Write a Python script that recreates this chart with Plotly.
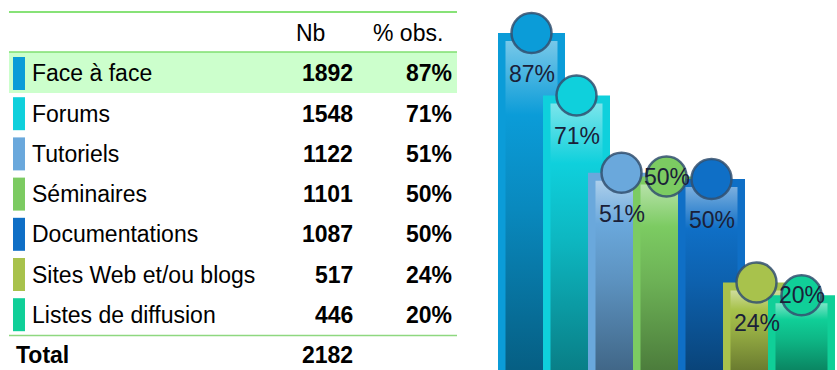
import plotly.graph_objects as go

# ---- data ---------------------------------------------------------------
categories = ["Face à face", "Forums", "Tutoriels", "Séminaires",
              "Documentations", "Sites Web et/ou blogs", "Listes de diffusion"]
counts = [1892, 1548, 1122, 1101, 1087, 517, 446]
total = 2182
colors = ["#0b9cd8", "#0fd0dc", "#6aa8dc", "#7ccb62",
          "#0f6fc6", "#a8c24c", "#10cf98"]
header_labels = ["Nb", "% obs."]
total_label = "Total"

pct = [c / total * 100 for c in counts]

# labels that sit on the marker instead of under it
labels_on_marker = {"Séminaires", "Listes de diffusion"}

# ---- helpers ------------------------------------------------------------
W, H = 837, 370
FONT = "Liberation Sans, Arial, sans-serif"
FS = 23


def _rgb(h):
    h = h.lstrip("#")
    return [int(h[i:i + 2], 16) for i in (0, 2, 4)]


def shade(h, f):
    r, g, b = _rgb(h)
    return "rgb(%d,%d,%d)" % (r * f, g * f, b * f)


def tint(h, f):
    r, g, b = _rgb(h)
    return "rgb(%d,%d,%d)" % (r + (255 - r) * f, g + (255 - g) * f, b + (255 - b) * f)


def px(x):
    return x / W


def py(y):
    return 1 - y / H


# ---- chart geometry -----------------------------------------------------
x_domain = [px(498), px(835)]
half = 0.7444            # half bar width in category units (bars overlap)
inset = 7.5 / 45         # inner panel inset, category units
y_range = [1.57, 95.05]
y_per_px = (y_range[1] - y_range[0]) / H
top_gap = 8 * y_per_px   # inner panel starts a little below the bar top

fig = go.Figure()

for i, (name, p, col) in enumerate(zip(categories, pct, colors)):
    # outer bar body
    fig.add_trace(go.Scatter(
        x=[i - half, i + half, i + half, i - half, i - half],
        y=[0, 0, p, p, 0],
        mode="lines", fill="toself", fillcolor=col,
        line=dict(width=0, color=col), hoverinfo="skip", showlegend=False))
    # inner glossy panel
    fig.add_trace(go.Scatter(
        x=[i - half + inset, i + half - inset, i + half - inset,
           i - half + inset, i - half + inset],
        y=[0, 0, p - top_gap, p - top_gap, 0],
        mode="lines", fill="toself",
        fillgradient=dict(type="vertical", colorscale=[
            [0.0, shade(col, 0.6)],
            [0.5, shade(col, 0.88)],
            [0.78, col],
            [1.0, tint(col, 0.45)]]),
        line=dict(width=0, color=col), hoverinfo="skip", showlegend=False))

# markers on top of each bar
fig.add_trace(go.Scatter(
    x=list(range(len(categories))), y=pct, mode="markers",
    marker=dict(size=40, color=colors,
                line=dict(width=2.5, color="rgba(50,80,112,0.85)")),
    hoverinfo="skip", showlegend=False, cliponaxis=False))

annotations = []
for i, (name, p) in enumerate(zip(categories, pct)):
    annotations.append(dict(
        x=i, y=p, xref="x", yref="y", text=f"{p:.0f}%", showarrow=False,
        yshift=0 if name in labels_on_marker else -41,
        font=dict(family=FONT, size=FS, color="#1a2038")))

# ---- table --------------------------------------------------------------
shapes = []
left, right = px(9), px(457)
row0, step = 73.5, 40.2

# highlighted first row
shapes.append(dict(type="rect", xref="paper", yref="paper",
                   x0=left, x1=right, y0=py(93), y1=py(52),
                   fillcolor="#ccffcc", line=dict(width=0), layer="below"))
# rules
shapes.append(dict(type="line", xref="paper", yref="paper", x0=left, x1=right,
                   y0=py(12), y1=py(12), line=dict(color="#5fd84a", width=1.3)))
shapes.append(dict(type="line", xref="paper", yref="paper", x0=left, x1=right,
                   y0=py(52), y1=py(52), line=dict(color="#7fdf70", width=1.5)))
shapes.append(dict(type="line", xref="paper", yref="paper", x0=left, x1=right,
                   y0=py(335.5), y1=py(335.5), line=dict(color="#8ed880", width=1.5)))


def text_at(x, y, s, anchor, bold=False):
    annotations.append(dict(x=px(x), y=py(y), xref="paper", yref="paper",
                            xanchor=anchor, yanchor="middle", showarrow=False,
                            text=f"<b>{s}</b>" if bold else s,
                            font=dict(family=FONT, size=FS, color="#000")))


# header
text_at(327, 33.5, header_labels[0], "right")
text_at(445, 33.5, header_labels[1], "right")

for k, (name, c, p, col) in enumerate(zip(categories, counts, pct, colors)):
    yc = row0 + k * step
    shapes.append(dict(type="rect", xref="paper", yref="paper",
                       x0=px(13), x1=px(25), y0=py(yc + 16.5), y1=py(yc - 16.5),
                       fillcolor=col, line=dict(width=0)))
    text_at(29.5, yc, name, "left")
    text_at(355, yc, str(c), "right", bold=True)
    text_at(454, yc, f"{p:.0f}%", "right", bold=True)

yt = row0 + len(categories) * step
text_at(14, yt, total_label, "left", bold=True)
text_at(355, yt, str(total), "right", bold=True)

fig.update_layout(
    width=W, height=H, margin=dict(l=0, r=0, t=0, b=0),
    paper_bgcolor="white", plot_bgcolor="rgba(0,0,0,0)",
    xaxis=dict(domain=x_domain, range=[-half, len(categories) - 1 + half],
               visible=False, fixedrange=True),
    yaxis=dict(domain=[0, 1], range=y_range, visible=False, fixedrange=True),
    shapes=shapes, annotations=annotations, showlegend=False,
)

fig.write_html("out.html", config={"displayModeBar": False})
